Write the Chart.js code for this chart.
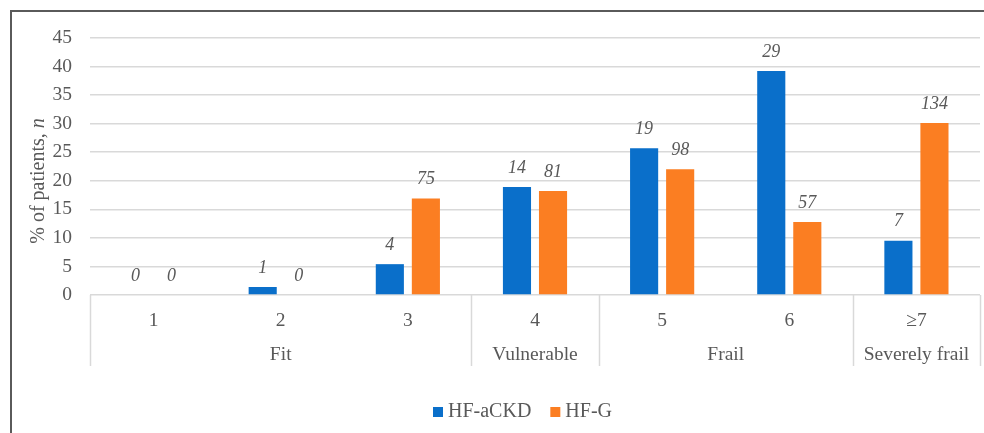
<!DOCTYPE html>
<html>
<head>
<meta charset="utf-8">
<script src="https://cdn.jsdelivr.net/npm/chart.js@4/dist/chart.umd.min.js"></script>
<style>
  html, body { margin: 0; padding: 0; background: #fff; }
  #wrap { width: 984px; height: 433px; position: relative; }
</style>
</head>
<body>
<div id="wrap"><canvas id="frailChart"></canvas></div>
<script>
// data
var categories = ['1', '2', '3', '4', '5', '6', '\u22657'];
var groupNames = ['Fit', 'Vulnerable', 'Frail', 'Severely frail'];
var groupSizes = [3, 1, 2, 1];

var ckdPercent = [0, 1.4, 5.4, 18.9, 25.7, 39.2, 9.5];
var ckdCounts  = [0, 1, 4, 14, 19, 29, 7];
var genPercent = [0, 0, 16.9, 18.2, 22.0, 12.8, 30.1];
var genCounts  = [0, 0, 75, 81, 98, 57, 134];

var yTicks = [0, 5, 10, 15, 20, 25, 30, 35, 40, 45];

var serif = "'Liberation Serif', 'Times New Roman', serif";
var textGrey = '#595959';
var lineGrey = '#d9d9d9';

//frame, axis title, group row, legend and value labels
var extras = {
  id: 'extras',
  beforeDraw: function(chart) {
    var ctx = chart.ctx;
    ctx.save();
    ctx.fillStyle = '#fff';
    ctx.fillRect(0, 0, chart.width, chart.height);
    ctx.strokeStyle = '#5a5a5a';
    ctx.lineWidth = 2;
    ctx.beginPath();
    ctx.moveTo(11, chart.height);
    ctx.lineTo(11, 11);
    ctx.lineTo(chart.width, 11);
    ctx.stroke();
    ctx.restore();
  },
  afterDraw: function(chart) {
    var ctx = chart.ctx;
    var area = chart.chartArea;
    var x = chart.scales.x;

    // y axis title, "n" in italics
    ctx.save();
    ctx.translate(39, 181);
    ctx.rotate(-Math.PI / 2);
    ctx.fillStyle = textGrey;
    ctx.textBaseline = 'middle';
    ctx.font = '20px ' + serif;
    var part1 = '% of patients, ';
    var w1 = ctx.measureText(part1).width;
    ctx.font = 'italic 20px ' + serif;
    var w2 = ctx.measureText('n').width;
    var start = -(w1 + w2) / 2;
    ctx.font = '20px ' + serif;
    ctx.textAlign = 'left';
    ctx.fillText(part1, start, 0);
    ctx.font = 'italic 20px ' + serif;
    ctx.fillText('n', start + w1, 0);
    ctx.restore();

    // group separators and names
    var half = (x.getPixelForValue(1) - x.getPixelForValue(0)) / 2;
    var bounds = [x.getPixelForValue(0) - half];
    var idx = 0;
    groupSizes.forEach(function(n) {
      idx += n;
      bounds.push(x.getPixelForValue(idx - 1) + half);
    });
    ctx.save();
    ctx.strokeStyle = lineGrey;
    ctx.lineWidth = 1.5;
    bounds.forEach(function(b) {
      ctx.beginPath();
      ctx.moveTo(Math.round(b) + 0.5, area.bottom);
      ctx.lineTo(Math.round(b) + 0.5, area.bottom + 71);
      ctx.stroke();
    });
    ctx.fillStyle = textGrey;
    ctx.font = '19.5px ' + serif;
    ctx.textAlign = 'center';
    ctx.textBaseline = 'middle';
    groupNames.forEach(function(name, i) {
      ctx.fillText(name, (bounds[i] + bounds[i + 1]) / 2, area.bottom + 60);
    });
    ctx.restore();

    // legend
    ctx.save();
    ctx.font = '20px ' + serif;
    ctx.textBaseline = 'middle';
    ctx.textAlign = 'left';
    var lx = 433;
    chart.data.datasets.forEach(function(ds) {
      ctx.fillStyle = ds.backgroundColor;
      ctx.fillRect(lx, 407, 10, 10);
      ctx.fillStyle = textGrey;
      ctx.fillText(ds.label, lx + 15, 412);
      lx += 15 + ctx.measureText(ds.label).width + 19;
    });
    ctx.restore();

    // n above each bar
    var counts = [ckdCounts, genCounts];
    ctx.save();
    ctx.fillStyle = textGrey;
    ctx.font = 'italic 18px ' + serif;
    ctx.textAlign = 'center';
    ctx.textBaseline = 'middle';
    chart.data.datasets.forEach(function(ds, d) {
      var meta = chart.getDatasetMeta(d);
      meta.data.forEach(function(bar, i) {
        ctx.fillText(String(counts[d][i]), bar.x, bar.y - 19);
      });
    });
    ctx.restore();
  }
};

const ctx = document.getElementById('frailChart');

new Chart(ctx, {
  type: 'bar',
  data: {
    labels: categories,
    datasets: [{
      label: 'HF-aCKD',
      data: ckdPercent,
      backgroundColor: '#0a6fca',
      categoryPercentage: 0.567,
      barPercentage: 0.78
    }, {
      label: 'HF-G',
      data: genPercent,
      backgroundColor: '#fb7e22',
      categoryPercentage: 0.567,
      barPercentage: 0.78
    }]
  },
  options: {
    responsive: true,
    maintainAspectRatio: false,
    animation: false,
    layout: {
      padding: { top: 38, right: 4, left: 0, bottom: 0 }
    },
    plugins: {
      legend: { display: false },
      tooltip: { enabled: false }
    },
    scales: {
      x: {
        grid: { display: false, drawTicks: false },
        border: { display: false },
        ticks: {
          color: textGrey,
          padding: 14,
          font: { family: serif, size: 19.5 }
        },
        afterFit: function(scale) { scale.height = 138; }
      },
      y: {
        min: 0,
        max: 45,
        afterBuildTicks: function(scale) {
          scale.ticks = yTicks.map(function(v) { return { value: v }; });
        },
        grid: { color: lineGrey, lineWidth: 1.5, drawTicks: false },
        border: { display: false },
        ticks: {
          color: textGrey,
          padding: 18,
          font: { family: serif, size: 19.5 }
        },
        afterFit: function(scale) { scale.width = 90; }
      }
    }
  },
  plugins: [extras]
});
</script>
</body>
</html>
